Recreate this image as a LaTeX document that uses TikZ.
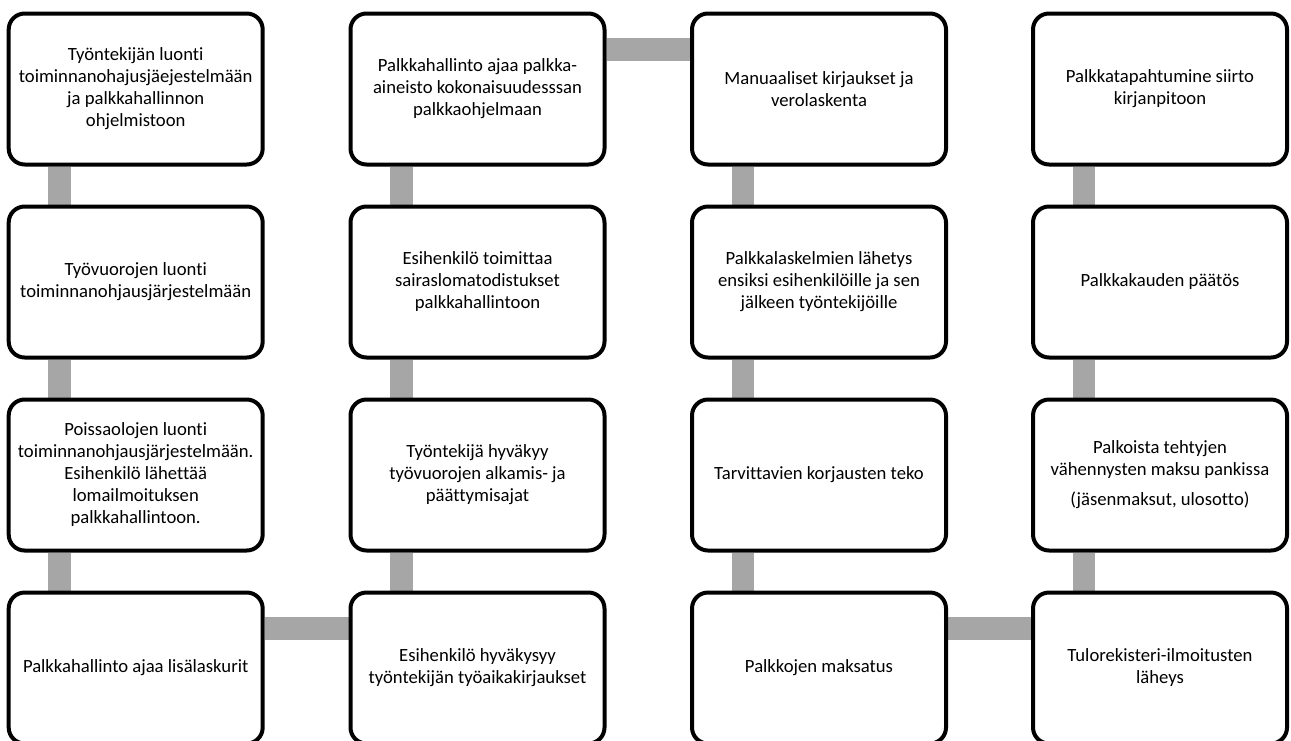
\documentclass[tikz,border=0pt]{standalone}
\usepackage{fontspec}
\setmainfont{Carlito}[Ligatures=NoCommon]
\usetikzlibrary{positioning,backgrounds}
\tikzset{
  stepbox/.style={draw=black,line width=3pt,rounded corners=12pt,fill=white,
    minimum width=190.5pt,minimum height=113.25pt,align=center,inner sep=2pt,
    font=\fontsize{14}{16.5}\selectfont},
  bar/.style={draw=black!35,line width=17pt},  % grey joining band
}
\begin{document}
\begin{tikzpicture}[x=0.75pt,y=-0.75pt]
  \useasboundingbox (0,0) rectangle (1291,740);
  % column 1, top to bottom
  \node[stepbox] (luonti) at (135.7,89) {Työntekijän luonti\\toiminnanohajusjäejestelmään\\ja palkkahallinnon\\ohjelmistoon};
  \node[stepbox] (vuorot) at (135.7,282) {Työvuorojen luonti\\toiminnanohjausjärjestelmään};
  \node[stepbox] (poissa) at (135.7,475) {Poissaolojen luonti\\toiminnanohjausjärjestelmään.\\Esihenkilö lähettää\\lomailmoituksen\\palkkahallintoon.};
  \node[stepbox] (lisa) at (135.7,668) {Palkkahallinto ajaa lisälaskurit};
  % column 2, bottom to top
  \node[stepbox] (aikakirj) at (477.5,668) {Esihenkilö hyväkysyy\\työntekijän työaikakirjaukset};
  \node[stepbox] (hyvaksyy) at (477.5,475) {Työntekijä hyväkyy\\työvuorojen alkamis- ja\\päättymisajat};
  \node[stepbox] (sairas) at (477.5,282) {Esihenkilö toimittaa\\sairaslomatodistukset\\palkkahallintoon};
  \node[stepbox] (aineisto) at (477.5,89) {Palkkahallinto ajaa palkka-\\aineisto kokonaisuudesssan\\palkkaohjelmaan};
  % column 3, top to bottom
  \node[stepbox] (manuaali) at (819,89) {Manuaaliset kirjaukset ja\\verolaskenta};
  \node[stepbox] (laskelmat) at (819,282) {Palkkalaskelmien lähetys\\ensiksi esihenkilöille ja sen\\jälkeen työntekijöille};
  \node[stepbox] (korjaus) at (819,475) {Tarvittavien korjausten teko};
  \node[stepbox] (maksatus) at (819,668) {Palkkojen maksatus};
  % column 4, bottom to top
  \node[stepbox] (tulorek) at (1160,668) {Tulorekisteri-ilmoitusten\\läheys};
  \node[stepbox] (vahennys) at (1160,475) {Palkoista tehtyjen\\vähennysten maksu pankissa\\[6pt](jäsenmaksut, ulosotto)};
  \node[stepbox] (paatos) at (1160,282) {Palkkakauden päätös};
  \node[stepbox] (siirto) at (1160,89) {Palkkatapahtumine siirto\\kirjanpitoon};
  \begin{scope}[on background layer]
    \foreach \a/\b in {luonti/vuorot,vuorot/poissa,poissa/lisa,
                       hyvaksyy/aikakirj,sairas/hyvaksyy,aineisto/sairas,
                       manuaali/laskelmat,laskelmat/korjaus,korjaus/maksatus,
                       vahennys/tulorek,paatos/vahennys,siirto/paatos}
      \draw[bar] ([xshift=-57pt]\a.south) -- ([xshift=-57pt]\b.north);
    \foreach \a/\b in {lisa/aikakirj,aineisto/manuaali,maksatus/tulorek}
      \draw[bar] ([yshift=-28.5pt]\a.north east) -- ([yshift=-28.5pt]\b.north west);
  \end{scope}
\end{tikzpicture}
\end{document}
